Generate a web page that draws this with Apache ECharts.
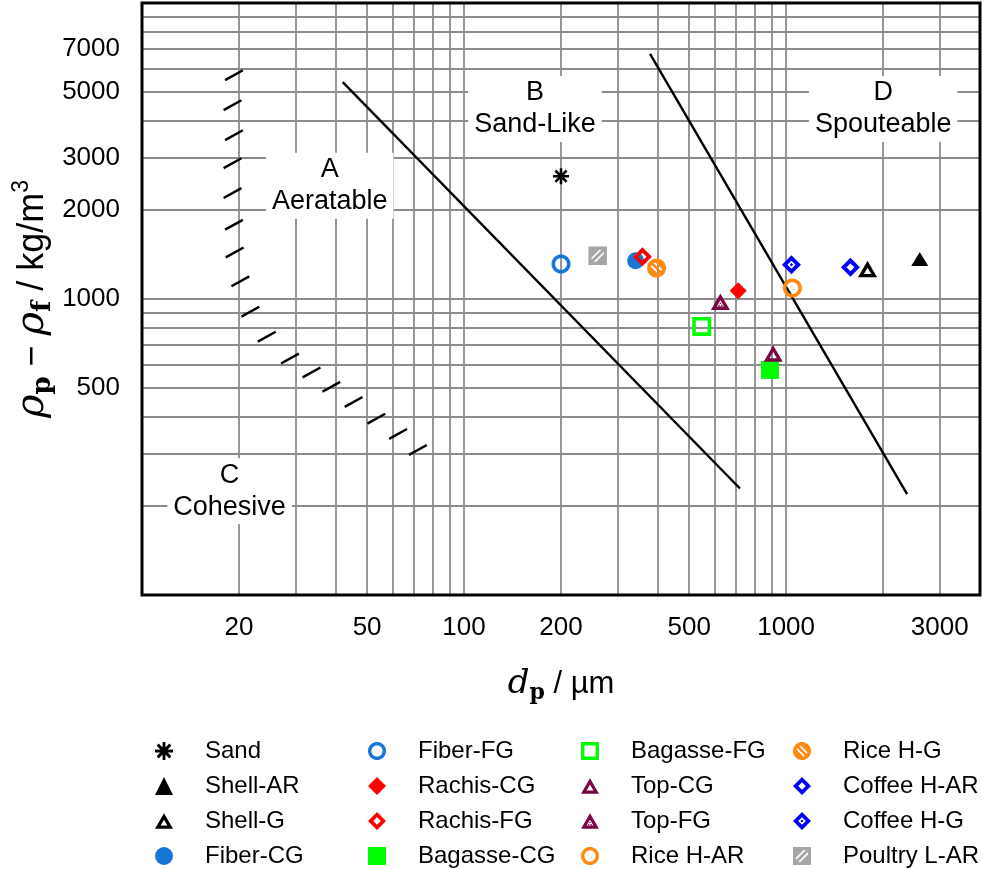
<!DOCTYPE html>
<html><head><meta charset="utf-8">
<script src="https://cdn.jsdelivr.net/npm/echarts@6/dist/echarts.min.js"></script>
<style>html,body{margin:0;padding:0;background:#fff}#c{width:982px;height:869px}</style>
</head><body><div id="c"></div>
<script>
// ---------------- data ----------------
const seriesNames = ['Sand','Shell-AR','Shell-G','Fiber-CG','Fiber-FG','Rachis-CG','Rachis-FG','Bagasse-CG',
  'Bagasse-FG','Top-CG','Top-FG','Rice H-AR','Rice H-G','Coffee H-AR','Coffee H-G','Poultry L-AR'];
const particleDiameter = [200, 2600, 1790, 341, 200, 710, 358, 891, 547, 912, 625, 1046, 396, 1584, 1039, 260];
const densityDifference = [2600, 1365, 1262, 1347, 1313, 1067, 1390, 576, 808, 655, 979, 1089, 1272, 1279, 1306, 1400];

const boundaryAB_x = [42, 719];
const boundaryAB_y = [5400, 229];
const boundaryBD_x = [378, 2375];
const boundaryBD_y = [6731, 219];

const hatchAC_x = [19.3, 19.1, 19.3, 19.1, 19.1, 19.3, 19.4, 20.2, 21.7, 24.4, 28.8, 33.6, 38.7, 45.4, 53.4, 62.4, 71.9];
const hatchAC_y = [5700, 4516, 3577, 2877, 2279, 1781, 1436, 1147, 906, 746, 629, 565, 505, 449, 394, 350, 309];

const regionLetters = ['A', 'B', 'C', 'D'];
const regionNames = ['Aeratable', 'Sand-Like', 'Cohesive', 'Spouteable'];
const regionX = [38.3, 166, 18.7, 2002];
const regionY = [2413, 4388, 224, 4388];

const xTickLabels = [20, 50, 100, 200, 500, 1000, 3000];
const yTickLabels = [500, 1000, 2000, 3000, 5000, 7000];
const xGridLines = [20, 30, 40, 50, 60, 70, 80, 90, 100, 200, 300, 400, 500, 600, 700, 800, 900, 1000, 2000, 3000];
const yGridLines = [200, 300, 400, 500, 600, 700, 800, 900, 1000, 2000, 3000, 4000, 5000, 6000, 7000, 8000, 9000];

// ---------------- symbol geometry ----------------
function P(pts){ return pts.map((p,i)=>(i?'L':'M')+p[0].toFixed(2)+' '+p[1].toFixed(2)).join(' ')+' Z '; }
function circ(cx,cy,r,n){ const a=[]; for(let i=0;i<n;i++){const t=2*Math.PI*i/n; a.push([cx+r*Math.cos(t), cy+r*Math.sin(t)]);} return a; }
function scaleAbout(pts,cx,cy,k){ return pts.map(p=>[cx+(p[0]-cx)*k, cy+(p[1]-cy)*k]); }
function clipHalf(poly,nx,ny,c,keepGreater){
  const out=[]; const f=p=>{const v=nx*p[0]+ny*p[1]-c; return keepGreater? v : -v;};
  for(let i=0;i<poly.length;i++){
    const a=poly[i], b=poly[(i+1)%poly.length]; const fa=f(a), fb=f(b);
    if(fa>=0) out.push(a);
    if((fa>=0)!==(fb>=0)){ const t=fa/(fa-fb); out.push([a[0]+(b[0]-a[0])*t, a[1]+(b[1]-a[1])*t]); }
  }
  return out;
}
function strip(poly,nx,ny,a,b){ const c0=nx*50+ny*50; return clipHalf(clipHalf(poly,nx,ny,a+c0,true),nx,ny,b+c0,false); }
function ring(outer,inner){ return P(outer)+P(inner.slice().reverse()); }
function sq(x0,x1){ return [[x0,x0],[x1,x0],[x1,x1],[x0,x1]]; }
function dot(cx,cy,h){ return P([[cx-h,cy-h],[cx+h,cy-h],[cx+h,cy+h],[cx-h,cy+h]]); }

const s2 = Math.SQRT1_2;
const outerCircle = circ(50,50,50,48), innerCircle = circ(50,50,31,48);
const diamondO = [[50,0],[100,50],[50,100],[0,50]];
const diamondI = scaleAbout(diamondO,50,50,0.42);
const triO = [[0,86.6],[50,0],[100,86.6]];
const triI = scaleAbout(triO,50,57.74,0.38);

const SYM = {
  asterisk: 'path://' + [0,45,90,135].map(d=>{const t=d*Math.PI/180, c=Math.cos(t), s=Math.sin(t);
      return P([[-50,-8],[50,-8],[50,8],[-50,8]].map(p=>[50+p[0]*c-p[1]*s, 50+p[0]*s+p[1]*c]));}).join(''),
  ringCircle: 'path://' + ring(outerCircle, innerCircle),
  ringSquare: 'path://' + ring(sq(0,100), sq(19,81)),
  ringDiamond: 'path://' + ring(diamondO, diamondI),
  ringTriangle: 'path://' + ring(triO, triI),
  dotTriangle: 'path://' + ring(triO, triI) + dot(50,52,3.5) + dot(43,63,3.5) + dot(57,63,3.5),
  dotDiamond: 'path://' + ring(diamondO, diamondI) + P([[50,41],[59,50],[50,59],[41,50]]),
  dotCircle: 'path://' + ring(outerCircle, innerCircle) + dot(42,44,2.5) + dot(58,58,2.5),
  hatchCircle: 'path://' + ring(outerCircle, innerCircle) +
      [[-32,-16],[-7,7],[16,32]].map(b=>P(strip(innerCircle, s2, -s2, b[0], b[1]))).join(''),
  hatchSquare: 'path://' + ring(sq(0,100), sq(17,83)) +
      [[-48,-17],[-8,8],[17,48]].map(b=>P(strip(sq(17,83), s2, s2, b[0], b[1]))).join('')
};
const DASH = 'path://M0.4 9.9 L18.4 0 L19.6 2.1 L1.6 12.1 Z';

// ---------------- styles ----------------
const markerStyle = {
  'Sand':        {c:'#000000', s:SYM.asterisk, z:16},
  'Shell-AR':    {c:'#000000', s:'triangle', z:[17,14]},
  'Shell-G':     {c:'#000000', s:SYM.ringTriangle, z:[19,16.5]},
  'Fiber-CG':    {c:'#1776d6', s:'circle', z:17},
  'Fiber-FG':    {c:'#1776d6', s:SYM.ringCircle, z:19},
  'Rachis-CG':   {c:'#ff0000', s:'diamond', z:17},
  'Rachis-FG':   {c:'#ff0000', s:SYM.ringDiamond, z:19},
  'Bagasse-CG':  {c:'#00ff00', s:'rect', z:18},
  'Bagasse-FG':  {c:'#00ff00', s:SYM.ringSquare, z:19},
  'Top-CG':      {c:'#7b0646', s:SYM.ringTriangle, z:[19,16.5]},
  'Top-FG':      {c:'#7b0646', s:SYM.dotTriangle, z:[19,16.5]},
  'Rice H-AR':   {c:'#ff8a10', s:SYM.dotCircle, z:19},
  'Rice H-G':    {c:'#ff8a10', s:SYM.hatchCircle, z:19},
  'Coffee H-AR': {c:'#0000ff', s:SYM.ringDiamond, z:19},
  'Coffee H-G':  {c:'#0000ff', s:SYM.dotDiamond, z:19},
  'Poultry L-AR':{c:'#a6a6a6', s:SYM.hatchSquare, z:18.5}
};
const FONT = 'Liberation Sans, Arial, sans-serif';
const GRID_COLOR = '#8c8c8c';

// ---------------- series ----------------
const series = [];
series.push({
  name: '_grid', type: 'scatter', data: [], z: 1, silent: true,
  markLine: {
    silent: true, symbol: ['none','none'], animation: false, z: 1,
    lineStyle: {color: GRID_COLOR, width: 1.8, type: 'solid', opacity: 1},
    emphasis: {disabled: true},
    data: xGridLines.map(v => ({xAxis: v, label: {show: xTickLabels.includes(v), formatter: String(v),
            position: 'start', distance: 20, fontSize: 26, fontFamily: FONT, color: '#000'}}))
      .concat(yGridLines.map(v => ({yAxis: v, label: {show: yTickLabels.includes(v), formatter: String(v),
            position: 'start', distance: 22, fontSize: 26, fontFamily: FONT, color: '#000'}})))
  }
});
series.push({
  name: '_regions', type: 'scatter', z: 2, silent: true, symbolSize: 1,
  itemStyle: {color: '#fff', opacity: 1},
  data: regionLetters.map((l,i) => ({value: [regionX[i], regionY[i]], name: l + '\n' + regionNames[i]})),
  label: {show: true, position: 'inside', formatter: p => p.name, fontSize: 27, lineHeight: 32,
    fontFamily: FONT, color: '#000', opacity: 1, backgroundColor: '#fff', padding: [1, 6], align: 'center'}
});
[[boundaryAB_x, boundaryAB_y], [boundaryBD_x, boundaryBD_y]].forEach((b, k) => {
  series.push({name: '_line' + k, type: 'line', z: 3, silent: true, symbol: 'none',
    lineStyle: {color: '#000', width: 2.4}, data: b[0].map((x,i) => [x, b[1][i]])});
});
series.push({name: '_hatch', type: 'scatter', z: 3, silent: true, symbol: DASH, symbolSize: [19, 12],
  itemStyle: {color: '#000', opacity: 1}, data: hatchAC_x.map((x,i) => [x, hatchAC_y[i]])});
seriesNames.forEach((n, i) => {
  const st = markerStyle[n];
  series.push({name: n, type: 'scatter', z: 5, silent: true, symbol: st.s, symbolSize: st.z,
    itemStyle: {color: st.c, opacity: 1}, data: [[particleDiameter[i], densityDifference[i]]]});
});

// ---------------- legends ----------------
const legendCols = [seriesNames.slice(0,4), seriesNames.slice(4,8), seriesNames.slice(8,12), seriesNames.slice(12,16)];
const legendLeft = [155, 368, 581, 793];
const legends = legendCols.map((names, i) => ({
  data: names, orient: 'vertical', left: legendLeft[i], top: 739, height: 160,
  itemWidth: 18, itemHeight: 18, itemGap: 11,
  selectedMode: false, padding: 0,
  textStyle: {fontSize: 24, fontFamily: FONT, color: '#000', padding: [0, 0, 0, 27]}
}));

const chart = echarts.init(document.getElementById('c'), null, {renderer: 'canvas'});
chart.setOption({
  animation: false,
  backgroundColor: '#fff',
  grid: {left: 142, right: 2, top: 3, bottom: 274, show: true, borderColor: '#000', borderWidth: 3,
    backgroundColor: 'rgba(0,0,0,0)', z: 10},
  legend: legends,
  xAxis: {type: 'log', logBase: 10, min: 10, max: 4000,
    axisLine: {show: false}, axisTick: {show: false}, axisLabel: {show: false}, splitLine: {show: false},
    name: '{d|d}{p|p}{t| / µm}', nameLocation: 'middle', nameGap: 69,
    nameTextStyle: {rich: {
      d: {fontFamily: 'DejaVu Serif', fontStyle: 'italic', fontSize: 34, lineHeight: 40, color: '#000'},
      p: {fontFamily: 'DejaVu Serif', fontWeight: 'bold', fontSize: 22, lineHeight: 16, verticalAlign: 'bottom', color: '#000'},
      t: {fontFamily: FONT, fontSize: 31, lineHeight: 40, color: '#000'}
    }}
  },
  yAxis: {type: 'log', logBase: 10, min: 100, max: 10000,
    axisLine: {show: false}, axisTick: {show: false}, axisLabel: {show: false}, splitLine: {show: false},
    name: '{r|ρ}{s|p}{t| − }{r|ρ}{s|f}{t| / kg/m}{u|3}', nameLocation: 'middle', nameGap: 86, nameRotate: 90,
    nameTextStyle: {rich: {
      r: {fontFamily: 'DejaVu Serif', fontStyle: 'italic', fontSize: 40, lineHeight: 46, color: '#000'},
      s: {fontFamily: 'DejaVu Serif', fontWeight: 'bold', fontSize: 26, lineHeight: 17, verticalAlign: 'bottom', color: '#000'},
      t: {fontFamily: FONT, fontSize: 36, lineHeight: 46, color: '#000'},
      u: {fontFamily: FONT, fontSize: 23, lineHeight: 21, verticalAlign: 'top', color: '#000'}
    }}
  },
  series: series
});
</script></body></html>
